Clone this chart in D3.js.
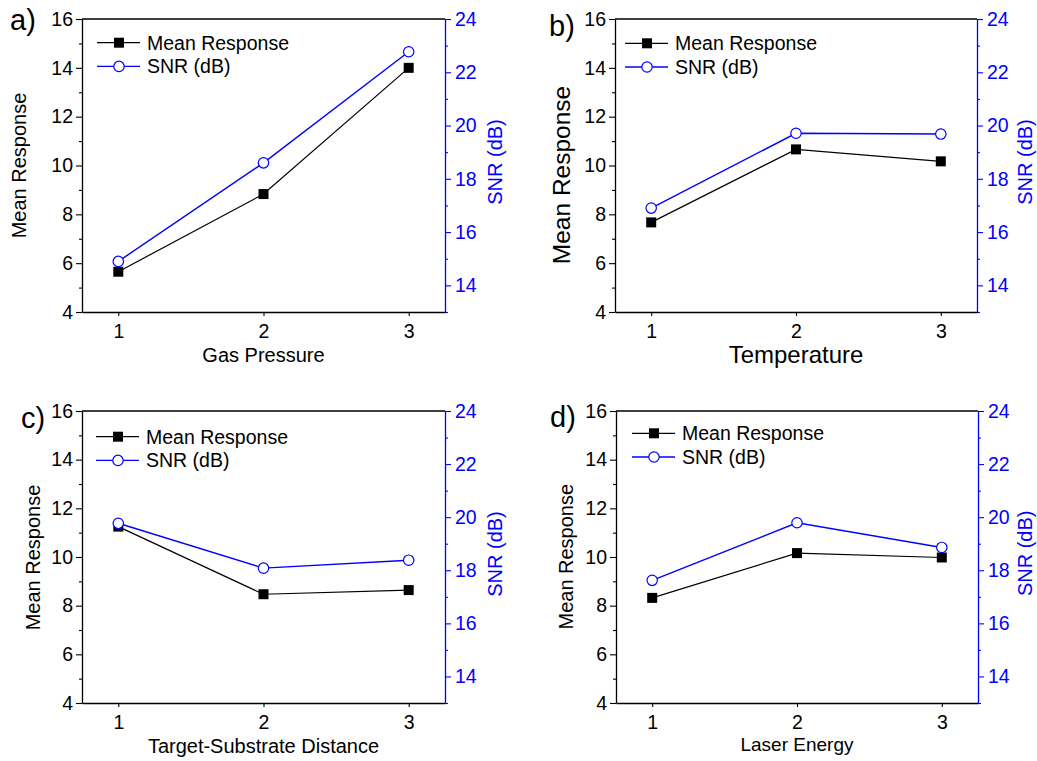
<!DOCTYPE html>
<html>
<head>
<meta charset="utf-8">
<script src="https://cdn.jsdelivr.net/npm/d3@7"></script>
<style>
  html, body { margin: 0; padding: 0; background: #fff; }
  svg { display: block; font-family: "Liberation Sans", Arial, sans-serif; }
</style>
</head>
<body>
<script>
// ---------------- data ----------------
const categories = [1, 2, 3];
const panelLabels = ["a)", "b)", "c)", "d)"];
const factorNames = ["Gas Pressure", "Temperature", "Target-Substrate Distance", "Laser Energy"];
const meanResponse = [
  [5.65, 8.83, 14.0],
  [7.67, 10.66, 10.17],
  [11.25, 8.47, 8.64],
  [8.32, 10.16, 9.98]
];
const snrDb = [
  [14.9, 18.6, 22.77],
  [16.9, 19.71, 19.68],
  [19.77, 18.08, 18.38],
  [17.62, 19.79, 18.86]
];
const seriesNames = ["Mean Response", "SNR (dB)"];
const leftMajorTicks = [4, 6, 8, 10, 12, 14, 16];
const leftMinorTicks = [5, 7, 9, 11, 13, 15];
const rightMajorTicks = [14, 16, 18, 20, 22, 24];
const rightMinorTicks = [13, 15, 17, 19, 21, 23];
const leftDomain = [4, 16];
const rightDomain = [13, 24];
const xDomain = [0.75, 3.25];

// ---------------- layout ----------------
const layout = [
  {l: 82, r: 445, t: 19, b: 312, labX: 10, labY: 30, yTX: 26, yTY: 165.5, yTS: 20, xTY: 361.5, xTS: 20, sX: 502, sY: 162, legX: 97, legY: 42.7},
  {l: 615, r: 977, t: 19, b: 312, labX: 549, labY: 36, yTX: 570, yTY: 175, yTS: 24.5, xTY: 363, xTS: 24, sX: 1031.5, sY: 162, legX: 625, legY: 43.3},
  {l: 82, r: 445, t: 411, b: 703, labX: 21, labY: 428, yTX: 40, yTY: 557.5, yTS: 20, xTY: 753, xTS: 20, sX: 502, sY: 554, legX: 96, legY: 436.7},
  {l: 616, r: 978, t: 411, b: 703, labX: 550, labY: 427, yTX: 572.5, yTY: 556.7, yTS: 20, xTY: 750.5, xTS: 19, sX: 1031.5, sY: 553.3, legX: 632, legY: 433.3}
];

const BLUE = "#0000ff";
const W = 1037, H = 761;
const svg = d3.select("body").append("svg").attr("width", W).attr("height", H);

layout.forEach((L, i) => {
  const x = d3.scaleLinear().domain(xDomain).range([L.l, L.r]);
  const yL = d3.scaleLinear().domain(leftDomain).range([L.b, L.t]);
  const yR = d3.scaleLinear().domain(rightDomain).range([L.b, L.t]);
  const g = svg.append("g");

  // top frame line
  g.append("line").attr("x1", L.l).attr("x2", L.r).attr("y1", L.t).attr("y2", L.t)
    .attr("stroke", "#000").attr("stroke-width", 1.3);

  // left axis
  g.append("g").attr("transform", `translate(${L.l},0)`)
    .call(d3.axisLeft(yL).tickValues(leftMajorTicks).tickSize(6).tickPadding(3).tickSizeOuter(0));
  g.append("g").attr("transform", `translate(${L.l},0)`)
    .call(d3.axisLeft(yL).tickValues(leftMinorTicks).tickSize(3).tickFormat("").tickSizeOuter(0))
    .select(".domain").remove();

  // bottom axis
  g.append("g").attr("transform", `translate(0,${L.b})`)
    .call(d3.axisBottom(x).tickValues(categories).tickSize(4).tickPadding(8).tickSizeOuter(0).tickFormat(d3.format("d")));

  // right axis
  const gr = g.append("g").attr("transform", `translate(${L.r},0)`)
    .call(d3.axisRight(yR).tickValues(rightMajorTicks).tickSize(6).tickPadding(4).tickSizeOuter(0));
  g.append("g").attr("transform", `translate(${L.r},0)`)
    .call(d3.axisRight(yR).tickValues(rightMinorTicks).tickSize(3).tickFormat("").tickSizeOuter(0))
    .attr("class", "rminor").select(".domain").remove();

  g.selectAll(".domain").attr("stroke-width", 1.3);
  g.selectAll(".tick line").attr("stroke-width", 1.1);
  g.selectAll(".tick text").attr("font-size", 19.5).attr("font-family", "Liberation Sans, Arial, sans-serif").attr("fill", "#000");
  gr.selectAll(".domain, .tick line").attr("stroke", BLUE);
  gr.selectAll(".tick text").attr("fill", BLUE);
  g.selectAll(".rminor .tick line").attr("stroke", BLUE);

  // lines
  const meanPts = categories.map((c, k) => [c, meanResponse[i][k]]);
  const snrPts = categories.map((c, k) => [c, snrDb[i][k]]);
  g.append("path").datum(meanPts)
    .attr("d", d3.line().x(d => x(d[0])).y(d => yL(d[1])))
    .attr("fill", "none").attr("stroke", "#000").attr("stroke-width", 1.2);
  g.append("path").datum(snrPts)
    .attr("d", d3.line().x(d => x(d[0])).y(d => yR(d[1])))
    .attr("fill", "none").attr("stroke", BLUE).attr("stroke-width", 1.4);

  const sq = 10;
  g.selectAll(".sq").data(meanPts).enter().append("rect")
    .attr("x", d => x(d[0]) - sq / 2).attr("y", d => yL(d[1]) - sq / 2)
    .attr("width", sq).attr("height", sq).attr("fill", "#000");
  g.selectAll(".ci").data(snrPts).enter().append("circle")
    .attr("cx", d => x(d[0])).attr("cy", d => yR(d[1])).attr("r", 5.2)
    .attr("fill", "#fff").attr("stroke", BLUE).attr("stroke-width", 1.2);

  // legend
  const leg = g.append("g");
  [0, 1].forEach(j => {
    const yy = L.legY + j * 23.7;
    const col = j === 0 ? "#000" : BLUE;
    leg.append("line").attr("x1", L.legX).attr("x2", L.legX + 43).attr("y1", yy).attr("y2", yy)
      .attr("stroke", col).attr("stroke-width", j === 0 ? 1.2 : 1.4);
    if (j === 0) {
      leg.append("rect").attr("x", L.legX + 22 - 5).attr("y", yy - 5).attr("width", 10).attr("height", 10).attr("fill", "#000");
    } else {
      leg.append("circle").attr("cx", L.legX + 22).attr("cy", yy).attr("r", 5.2)
        .attr("fill", "#fff").attr("stroke", BLUE).attr("stroke-width", 1.2);
    }
    leg.append("text").attr("x", L.legX + 50).attr("y", yy).attr("dy", "0.35em")
      .attr("font-size", 19.5).attr("fill", "#000").text(seriesNames[j]);
  });

  // panel label
  g.append("text").attr("x", L.labX).attr("y", L.labY).attr("font-size", 29).attr("fill", "#000").text(panelLabels[i]);

  // axis titles
  g.append("text").attr("transform", `translate(${L.yTX},${L.yTY}) rotate(-90)`)
    .attr("text-anchor", "middle").attr("font-size", L.yTS).attr("fill", "#000").text(seriesNames[0]);
  g.append("text").attr("transform", `translate(${L.sX},${L.sY}) rotate(-90)`)
    .attr("text-anchor", "middle").attr("font-size", 20).attr("fill", BLUE).text(seriesNames[1]);
  g.append("text").attr("x", (L.l + L.r) / 2).attr("y", L.xTY)
    .attr("text-anchor", "middle").attr("font-size", L.xTS).attr("fill", "#000").text(factorNames[i]);
});
</script>
</body>
</html>
